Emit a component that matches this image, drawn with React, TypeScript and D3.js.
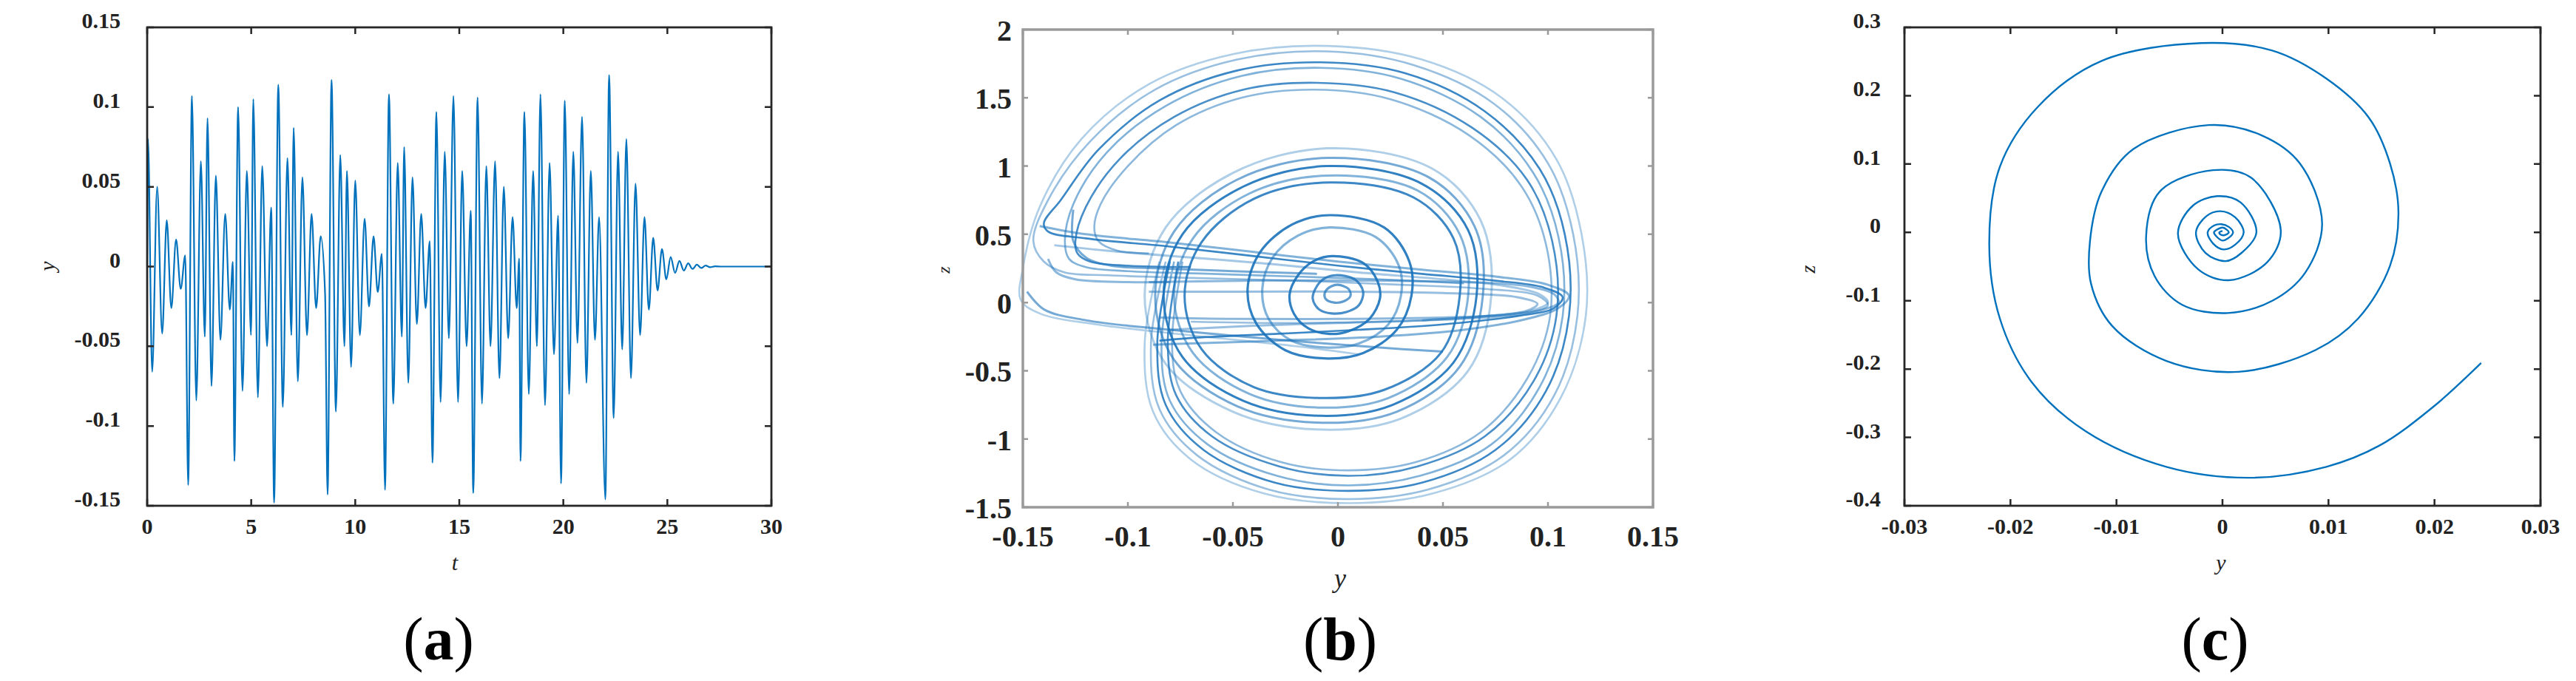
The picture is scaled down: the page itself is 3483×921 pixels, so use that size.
import React, { useEffect, useRef } from "react";
import * as d3 from "d3";

const width = 3483;
const height = 921;
const FONT = "'Liberation Serif', 'Times New Roman', serif";

// ---------- (a) y over t, turning points ----------
const timeA = [
  0, 0.04, 0.24, 0.48, 0.72, 0.94, 1.16, 1.39, 1.61, 1.83, 1.97,
  2.15, 2.36, 2.58, 2.77, 2.9, 3.09, 3.3, 3.52, 3.75, 3.97, 4.12, 4.19,
  4.37, 4.58, 4.79, 4.99, 5.1, 5.32, 5.53, 5.76, 5.96, 6.1,
  6.3, 6.52, 6.74, 6.93, 7.04, 7.24, 7.46, 7.68, 7.9, 8.12, 8.34, 8.55, 8.67,
  8.86, 9.07, 9.28, 9.48, 9.6, 9.8, 10.0, 10.22, 10.45, 10.66, 10.88, 11.08, 11.28, 11.43,
  11.62, 11.83, 12.04, 12.24, 12.35, 12.55, 12.75, 12.96, 13.17, 13.38, 13.58, 13.71,
  13.9, 14.1, 14.3, 14.5, 14.72, 14.94, 15.14, 15.35, 15.55, 15.67,
  15.88, 16.09, 16.3, 16.5, 16.72, 16.93, 17.14, 17.35, 17.56, 17.76, 17.88, 17.94,
  18.13, 18.34, 18.55, 18.73, 18.9, 19.12, 19.34, 19.55, 19.75, 19.89,
  20.07, 20.28, 20.48, 20.68, 20.9, 21.11, 21.32, 21.52, 21.72, 22.02,
  22.2, 22.42, 22.63, 22.83, 23.03, 23.25, 23.47, 23.69, 23.9, 24.11, 24.32, 24.53,
  24.74, 24.95, 25.16, 25.37, 25.58, 25.79, 26.0, 26.21, 26.42, 26.63, 26.84, 27.05,
  27.3, 27.6, 30,
];
const valueA = [
  0, 0.08, -0.066, 0.05, -0.042, 0.029, -0.026, 0.017, -0.014, 0.007, -0.137,
  0.107, -0.084, 0.066, -0.044, 0.093, -0.075, 0.057, -0.046, 0.033, -0.027, 0.003, -0.122,
  0.1, -0.078, 0.06, -0.043, 0.105, -0.082, 0.063, -0.05, 0.037, -0.148,
  0.114, -0.088, 0.068, -0.043, 0.087, -0.072, 0.056, -0.043, 0.033, -0.026, 0.019, -0.017, -0.143,
  0.117, -0.091, 0.07, -0.05, 0.06, -0.063, 0.054, -0.043, 0.03, -0.025, 0.019, -0.016, 0.008, -0.14,
  0.108, -0.086, 0.065, -0.044, 0.075, -0.073, 0.056, -0.036, 0.033, -0.026, 0.016, -0.123,
  0.097, -0.085, 0.072, -0.045, 0.107, -0.085, 0.06, -0.05, 0.035, -0.142,
  0.106, -0.086, 0.063, -0.05, 0.066, -0.07, 0.05, -0.045, 0.031, -0.026, 0.005, -0.122,
  0.097, -0.08, 0.06, -0.05, 0.108, -0.087, 0.065, -0.055, 0.032, -0.136,
  0.104, -0.08, 0.072, -0.048, 0.094, -0.073, 0.06, -0.046, 0.031, -0.146,
  0.12, -0.095, 0.072, -0.052, 0.08, -0.07, 0.052, -0.043, 0.031, -0.027, 0.018, -0.015,
  0.011, -0.008, 0.006, -0.004, 0.0035, -0.0025, 0.002, -0.0015, 0.0012, -0.0009, 0.0006, -0.0004,
  0.0002, 0, 0,
];
const tTicks = [0, 5, 10, 15, 20, 25, 30];
const tTickLabels = ["0", "5", "10", "15", "20", "25", "30"];
const yTicksA = [-0.15, -0.1, -0.05, 0, 0.05, 0.1, 0.15];
const yTickLabelsA = ["-0.15", "-0.1", "-0.05", "0", "0.05", "0.1", "0.15"];

// ---------- (b) y-z phase portrait, strands traced as [y, z] ----------
const yTicksB = [-0.15, -0.1, -0.05, 0, 0.05, 0.1, 0.15];
const yTickLabelsB = ["-0.15", "-0.1", "-0.05", "0", "0.05", "0.1", "0.15"];
const zTicksB = [-1.5, -1, -0.5, 0, 0.5, 1, 1.5, 2];
const zTickLabelsB = ["-1.5", "-1", "-0.5", "0", "0.5", "1", "1.5", "2"];

const outerArcs = [
  [[-0.085, 0.3], [-0.092, -0.3], [-0.088, -0.8], [-0.07, -1.15], [-0.035, -1.4], [0.005, -1.47], [0.045, -1.4], [0.082, -1.15], [0.106, -0.7], [0.118, -0.1], [0.116, 0.5], [0.104, 1.05], [0.078, 1.5], [0.04, 1.78], [-0.005, 1.88], [-0.05, 1.82], [-0.09, 1.6], [-0.122, 1.2], [-0.142, 0.7], [-0.15, 0.25], [-0.151, 0.02], [-0.142, -0.08], [-0.115, -0.16], [-0.07, -0.24], [-0.02, -0.32], [0.01, -0.38]],
  [[-0.082, 0.3], [-0.089, -0.3], [-0.085, -0.78], [-0.067, -1.12], [-0.033, -1.37], [0.005, -1.44], [0.043, -1.37], [0.079, -1.12], [0.103, -0.68], [0.114, -0.1], [0.112, 0.5], [0.1, 1.02], [0.074, 1.46], [0.036, 1.74], [-0.005, 1.84], [-0.048, 1.78], [-0.087, 1.56], [-0.118, 1.18], [-0.138, 0.75], [-0.145, 0.45], [-0.14, 0.3], [-0.13, 0.22], [-0.11, 0.2], [-0.07, 0.18], [-0.02, 0.16], [0.03, 0.13], [0.07, 0.1], [0.095, 0.05], [0.1, -0.02], [0.09, -0.08], [0.06, -0.12], [0.02, -0.14], [-0.03, -0.15], [-0.07, -0.14]],
  [[-0.08, 0.3], [-0.086, -0.3], [-0.082, -0.75], [-0.064, -1.08], [-0.03, -1.32], [0.005, -1.38], [0.04, -1.32], [0.075, -1.08], [0.099, -0.65], [0.11, -0.1], [0.108, 0.5], [0.096, 0.98], [0.07, 1.4], [0.032, 1.68], [-0.008, 1.76], [-0.048, 1.7], [-0.085, 1.48], [-0.114, 1.12], [-0.132, 0.75], [-0.14, 0.58], [-0.138, 0.52], [-0.12, 0.47], [-0.08, 0.41], [-0.04, 0.34], [0, 0.27], [0.04, 0.21], [0.075, 0.16], [0.098, 0.11], [0.107, 0.04], [0.103, -0.04], [0.085, -0.1], [0.05, -0.16], [0.01, -0.2], [-0.03, -0.23], [-0.07, -0.26], [-0.085, -0.28]],
  [[-0.078, 0.3], [-0.084, -0.3], [-0.08, -0.72], [-0.062, -1.04], [-0.029, -1.27], [0.005, -1.34], [0.039, -1.27], [0.073, -1.04], [0.096, -0.62], [0.107, -0.1], [0.105, 0.48], [0.093, 0.95], [0.068, 1.36], [0.03, 1.64], [-0.008, 1.72], [-0.046, 1.66], [-0.082, 1.44], [-0.11, 1.1], [-0.126, 0.72], [-0.13, 0.45], [-0.128, 0.32], [-0.12, 0.26], [-0.1, 0.23], [-0.06, 0.21], [-0.02, 0.19], [0.02, 0.17], [0.06, 0.14]],
  [[-0.076, 0.3], [-0.081, -0.3], [-0.077, -0.68], [-0.06, -0.98], [-0.028, -1.2], [0.005, -1.27], [0.038, -1.2], [0.07, -0.98], [0.093, -0.58], [0.104, -0.1], [0.102, 0.45], [0.09, 0.9], [0.064, 1.28], [0.027, 1.54], [-0.01, 1.61], [-0.045, 1.56], [-0.078, 1.36], [-0.104, 1.05], [-0.12, 0.7], [-0.125, 0.45], [-0.124, 0.36], [-0.118, 0.3], [-0.1, 0.27], [-0.07, 0.26]],
  [[-0.074, 0.3], [-0.079, -0.3], [-0.075, -0.65], [-0.058, -0.95], [-0.027, -1.17], [0.005, -1.23], [0.037, -1.17], [0.068, -0.95], [0.09, -0.56], [0.101, -0.1], [0.099, 0.43], [0.087, 0.86], [0.062, 1.23], [0.025, 1.49], [-0.012, 1.56], [-0.046, 1.5], [-0.077, 1.3], [-0.1, 1.0], [-0.113, 0.72], [-0.116, 0.55], [-0.114, 0.45], [-0.105, 0.38], [-0.09, 0.36]],
];
const outerShade = [0.35, 0.45, 0.85, 0.55, 0.8, 0.5];

const middleLoops = [
  [[-0.005, 1.13], [0.045, 0.98], [0.068, 0.6], [0.073, 0.05], [0.062, -0.5], [0.03, -0.85], [-0.01, -0.93], [-0.05, -0.8], [-0.082, -0.45], [-0.092, 0.05], [-0.082, 0.55], [-0.05, 0.95]],
  [[-0.005, 1.06], [0.043, 0.92], [0.065, 0.56], [0.069, 0.05], [0.058, -0.47], [0.028, -0.8], [-0.01, -0.88], [-0.048, -0.76], [-0.078, -0.42], [-0.087, 0.05], [-0.078, 0.52], [-0.048, 0.9]],
  [[-0.005, 1.0], [0.04, 0.87], [0.062, 0.53], [0.066, 0.05], [0.055, -0.44], [0.026, -0.75], [-0.008, -0.83], [-0.045, -0.72], [-0.074, -0.4], [-0.083, 0.05], [-0.074, 0.5], [-0.045, 0.85]],
  [[-0.005, 0.93], [0.038, 0.82], [0.058, 0.5], [0.062, 0.05], [0.052, -0.4], [0.024, -0.7], [-0.008, -0.77], [-0.042, -0.67], [-0.069, -0.37], [-0.078, 0.05], [-0.069, 0.47], [-0.042, 0.8]],
  [[-0.004, 0.88], [0.036, 0.77], [0.055, 0.47], [0.058, 0.05], [0.049, -0.37], [0.022, -0.64], [-0.007, -0.7], [-0.04, -0.62], [-0.065, -0.34], [-0.073, 0.05], [-0.065, 0.44], [-0.04, 0.76]],
];
const middleShade = [0.35, 0.6, 0.9, 0.55, 0.85];

const innerLoops = [
  [[-0.004, 0.64], [0.022, 0.55], [0.034, 0.3], [0.035, 0.05], [0.028, -0.2], [0.012, -0.37], [-0.005, -0.41], [-0.025, -0.35], [-0.039, -0.15], [-0.043, 0.1], [-0.037, 0.37], [-0.022, 0.57]],
  [[-0.004, 0.55], [0.018, 0.48], [0.029, 0.27], [0.03, 0.05], [0.024, -0.16], [0.01, -0.3], [-0.005, -0.33], [-0.022, -0.28], [-0.033, -0.12], [-0.036, 0.1], [-0.031, 0.33], [-0.019, 0.49]],
  [[-0.003, 0.34], [0.012, 0.29], [0.019, 0.15], [0.02, 0.03], [0.015, -0.12], [0.005, -0.21], [-0.004, -0.23], [-0.014, -0.19], [-0.021, -0.08], [-0.023, 0.06], [-0.019, 0.2], [-0.012, 0.3]],
  [[-0.001, 0.2], [0.008, 0.17], [0.012, 0.08], [0.01, -0.02], [0.004, -0.07], [-0.003, -0.08], [-0.009, -0.05], [-0.012, 0.03], [-0.01, 0.12], [-0.006, 0.18]],
  [[0, 0.13], [0.005, 0.1], [0.006, 0.05], [0.003, 0.01], [-0.002, 0], [-0.006, 0.03], [-0.006, 0.08], [-0.003, 0.12]],
];
const innerShade = [0.9, 0.55, 0.9, 0.8, 0.7];

const bands = [
  [[-0.148, 0.08], [-0.14, -0.05], [-0.12, -0.13], [-0.08, -0.2], [-0.03, -0.27], [0.02, -0.33], [0.05, -0.36]],
  [[-0.09, 0.15], [-0.04, 0.16], [0.02, 0.16], [0.06, 0.15], [0.09, 0.12], [0.103, 0.06], [0.105, 0], [0.098, -0.05], [0.08, -0.09], [0.05, -0.11], [0, -0.12], [-0.05, -0.12], [-0.085, -0.11]],
  [[-0.09, 0.08], [-0.05, 0.08], [0, 0.08], [0.05, 0.07], [0.085, 0.04], [0.095, -0.01], [0.09, -0.06], [0.07, -0.1], [0.04, -0.13], [0, -0.15], [-0.04, -0.17], [-0.08, -0.2]],
  [[-0.126, 0.68], [-0.126, 0.45], [-0.12, 0.33], [-0.108, 0.27], [-0.085, 0.25], [-0.05, 0.23], [-0.01, 0.21]],
  [[-0.138, 0.32], [-0.134, 0.22], [-0.125, 0.17], [-0.1, 0.15], [-0.08, 0.15]],
  [[-0.142, 0.56], [-0.12, 0.5], [-0.08, 0.44], [-0.04, 0.37], [0, 0.3], [0.04, 0.24], [0.075, 0.19], [0.1, 0.13], [0.11, 0.05], [0.105, -0.04], [0.09, -0.12], [0.06, -0.2], [0.02, -0.25], [-0.03, -0.28], [-0.07, -0.3], [-0.088, -0.31]],
  [[-0.135, 0.42], [-0.11, 0.38], [-0.07, 0.33], [-0.03, 0.28], [0.01, 0.22], [0.05, 0.17], [0.08, 0.12], [0.096, 0.06], [0.1, 0], [0.092, -0.06], [0.07, -0.1], [0.04, -0.13]],
];
const bandShade = [0.6, 0.5, 0.45, 0.6, 0.5, 0.55, 0.4];

// ---------- (c) y-z spiral, traced as [y, z] from outer end inwards ----------
const yTicksC = [-0.03, -0.02, -0.01, 0, 0.01, 0.02, 0.03];
const yTickLabelsC = ["-0.03", "-0.02", "-0.01", "0", "0.01", "0.02", "0.03"];
const zTicksC = [-0.4, -0.3, -0.2, -0.1, 0, 0.1, 0.2, 0.3];
const zTickLabelsC = ["-0.4", "-0.3", "-0.2", "-0.1", "0", "0.1", "0.2", "0.3"];
const spiral = [
  [0.0244, -0.191], [0.0199, -0.255], [0.0148, -0.312], [0.0098, -0.343], [0.0027, -0.359], [-0.0053, -0.343],
  [-0.0129, -0.291], [-0.018, -0.219], [-0.021, -0.126], [-0.022, -0.018], [-0.021, 0.096], [-0.0174, 0.184],
  [-0.0114, 0.251], [-0.002, 0.277], [0.0047, 0.266], [0.0098, 0.225], [0.0138, 0.168], [0.0158, 0.101],
  [0.0166, 0.029], [0.0158, -0.049], [0.0128, -0.126], [0.0088, -0.172], [0.0015, -0.204], [-0.0053, -0.188],
  [-0.0104, -0.137], [-0.0124, -0.075], [-0.0125, -0.013], [-0.0114, 0.06], [-0.0084, 0.122], [-0.0013, 0.157],
  [0.0037, 0.142], [0.0073, 0.101], [0.0094, 0.013], [0.0078, -0.059], [0.0047, -0.1], [0.0005, -0.118],
  [-0.0038, -0.106], [-0.0064, -0.064], [-0.0072, -0.005], [-0.0059, 0.06], [-0.0009, 0.091], [0.0027, 0.08],
  [0.0055, 0.003], [0.0042, -0.044], [0.0006, -0.07], [-0.0023, -0.054], [-0.0042, -0.002], [-0.0028, 0.039],
  [-0.0005, 0.053], [0.0017, 0.044], [0.0032, 0], [0.0018, -0.03], [0.0003, -0.042], [-0.0016, -0.03],
  [-0.0025, 0], [-0.0015, 0.024], [-0.0002, 0.031], [0.0012, 0.022], [0.002, 0], [0.0012, -0.018],
  [0.0001, -0.025], [-0.0009, -0.016], [-0.0014, 0], [-0.0008, 0.01], [-0.0001, 0.012], [0.0006, 0.008],
  [0.001, 0], [0.0005, -0.009], [0, -0.012], [-0.0005, -0.007], [-0.0008, 0], [-0.0004, 0.005],
  [0, 0.007], [0.0004, 0.004], [0.0006, 0], [0.0002, -0.004], [-0.0002, -0.003], [-0.0003, 0], [0, 0.002],
];

type Style = {
  color: string;
  frame: number;
  tick: number;
  font: number;
  xLabelY: number;
  yLabelGap: number;
  yLabelShift: number;
};

const drawAxes = (svg: any, x: any, y: any, xt: number[], xl: string[], yt: number[], yl: string[], s: Style) => {
  const [x0, x1] = x.range();
  const [y0, y1] = y.range();
  const g = svg.append("g");
  g.append("g")
    .selectAll("path")
    .data(xt)
    .enter()
    .append("path")
    .attr("d", (d: number) => `M${x(d)},${y0}v${-s.tick}M${x(d)},${y1}v${s.tick}`)
    .attr("stroke", s.color)
    .attr("stroke-width", 2.5);
  g.append("g")
    .selectAll("path")
    .data(yt)
    .enter()
    .append("path")
    .attr("d", (d: number) => `M${x0},${y(d)}h${s.tick}M${x1},${y(d)}h${-s.tick}`)
    .attr("stroke", s.color)
    .attr("stroke-width", 2.5);
  g.append("rect")
    .attr("x", x0)
    .attr("y", y1)
    .attr("width", x1 - x0)
    .attr("height", y0 - y1)
    .attr("fill", "none")
    .attr("stroke", s.color)
    .attr("stroke-width", s.frame);
  g.append("g")
    .selectAll("text")
    .data(xt)
    .enter()
    .append("text")
    .attr("x", (d: number) => x(d))
    .attr("y", y0 + s.xLabelY)
    .attr("text-anchor", "middle")
    .attr("font-family", FONT)
    .attr("font-weight", "bold")
    .attr("font-size", s.font)
    .attr("fill", "#222")
    .text((d: number, i: number) => xl[i]);
  g.append("g")
    .selectAll("text")
    .data(yt)
    .enter()
    .append("text")
    .attr("x", x0 - s.yLabelGap)
    .attr("y", (d: number) => y(d) + s.yLabelShift)
    .attr("text-anchor", "end")
    .attr("font-family", FONT)
    .attr("font-weight", "bold")
    .attr("font-size", s.font)
    .attr("fill", "#222")
    .text((d: number, i: number) => yl[i]);
};

const axisLabel = (svg: any, x: number, y: number, txt: string, size: number, rotate: boolean) => {
  svg
    .append("text")
    .attr("transform", `translate(${x},${y})${rotate ? " rotate(-90)" : ""}`)
    .attr("text-anchor", "middle")
    .attr("dominant-baseline", "central")
    .attr("font-family", FONT)
    .attr("font-style", "italic")
    .attr("font-size", size)
    .attr("fill", "#222")
    .text(txt);
};

const panelLabel = (svg: any, x: number, letter: string) => {
  const t = svg
    .append("text")
    .attr("x", x)
    .attr("y", 892)
    .attr("text-anchor", "middle")
    .attr("font-family", FONT)
    .attr("font-size", 82)
    .attr("fill", "#000");
  t.append("tspan").text("(");
  t.append("tspan").attr("font-weight", "bold").text(letter);
  t.append("tspan").text(")");
};

const App = () => {
  const ref = useRef<SVGSVGElement>(null);

  useEffect(() => {
    draw();
  });

  const draw = () => {
    const svg = d3.select(ref.current);
    svg.selectAll("*").remove();
    svg.append("rect").attr("width", width).attr("height", height).attr("fill", "#fff");

    // (a)
    const xA = d3.scaleLinear().domain([0, 30]).range([199, 1043]);
    const yA = d3.scaleLinear().domain([-0.15, 0.15]).range([684, 37]);
    const lineA = d3
      .line<number>()
      .x((d, i) => xA(timeA[i]))
      .y((d) => yA(d))
      .curve(d3.curveMonotoneX);
    svg
      .append("path")
      .attr("d", lineA(valueA))
      .attr("fill", "none")
      .attr("stroke", "#0072bd")
      .attr("stroke-width", 2.2);
    drawAxes(svg, xA, yA, tTicks, tTickLabels, yTicksA, yTickLabelsA, {
      color: "#262626", frame: 2.8, tick: 9, font: 30, xLabelY: 38, yLabelGap: 36, yLabelShift: 1,
    });
    axisLabel(svg, 63, 360, "y", 30, true);
    axisLabel(svg, 615, 760, "t", 30, false);
    panelLabel(svg, 593, "a");

    // (b)
    const xB = d3.scaleLinear().domain([-0.15, 0.15]).range([1383, 2235]);
    const yB = d3.scaleLinear().domain([-1.5, 2]).range([686, 40]);
    const open = d3
      .line<number[]>()
      .x((d) => xB(d[0]))
      .y((d) => yB(d[1]))
      .curve(d3.curveCatmullRom.alpha(0.5));
    const closed = d3
      .line<number[]>()
      .x((d) => xB(d[0]))
      .y((d) => yB(d[1]))
      .curve(d3.curveCatmullRomClosed.alpha(0.5));
    const gb = svg.append("g");
    const addPaths = (paths: number[][][], shade: number[], gen: any, w: number) => {
      gb.append("g")
        .selectAll("path")
        .data(paths)
        .enter()
        .append("path")
        .attr("d", (d: number[][]) => gen(d))
        .attr("fill", "none")
        .attr("stroke", "#1a72bb")
        .attr("stroke-opacity", (d: number[][], i: number) => shade[i])
        .attr("stroke-width", w);
    };
    addPaths(bands, bandShade, open, 3);
    addPaths(outerArcs, outerShade, open, 2.6);
    addPaths(middleLoops, middleShade, closed, 3);
    addPaths(innerLoops, innerShade, closed, 3.2);
    drawAxes(svg, xB, yB, yTicksB, yTickLabelsB, zTicksB, zTickLabelsB, {
      color: "#9a9a9a", frame: 3.5, tick: 7, font: 40, xLabelY: 53, yLabelGap: 15, yLabelShift: 15,
    });
    axisLabel(svg, 1276, 365, "z", 24, true);
    axisLabel(svg, 1812, 782, "y", 36, false);
    panelLabel(svg, 1812, "b");

    // (c)
    const xC = d3.scaleLinear().domain([-0.03, 0.03]).range([2575, 3435]);
    const yC = d3.scaleLinear().domain([-0.4, 0.3]).range([684, 37]);
    const lineC = d3
      .line<number[]>()
      .x((d) => xC(d[0]))
      .y((d) => yC(d[1]))
      .curve(d3.curveCatmullRom.alpha(0.5));
    svg
      .append("path")
      .attr("d", lineC(spiral))
      .attr("fill", "none")
      .attr("stroke", "#0072bd")
      .attr("stroke-width", 2.4);
    drawAxes(svg, xC, yC, yTicksC, yTickLabelsC, zTicksC, zTickLabelsC, {
      color: "#262626", frame: 2.8, tick: 9, font: 30, xLabelY: 38, yLabelGap: 32, yLabelShift: 1,
    });
    axisLabel(svg, 2444, 364, "z", 28, true);
    axisLabel(svg, 3003, 760, "y", 30, false);
    panelLabel(svg, 2995, "c");
  };

  return (
    <svg
      ref={ref}
      width={width}
      height={height}
      style={{ position: "absolute", left: 0, top: 0, display: "block" }}
    />
  );
};

export default App;
